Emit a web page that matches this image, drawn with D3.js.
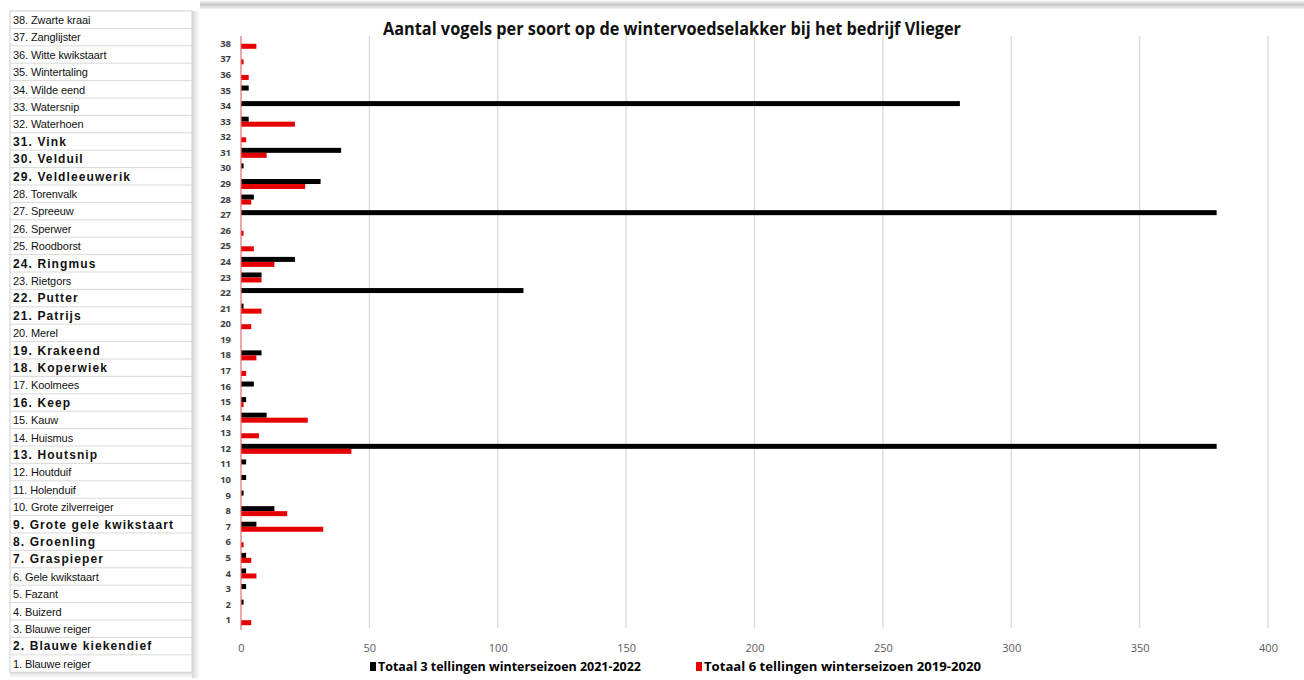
<!DOCTYPE html>
<html><head><meta charset="utf-8">
<script src="https://cdn.jsdelivr.net/npm/d3@7"></script>
<style>html,body{margin:0;padding:0;background:#fff;}svg{display:block;}</style>
</head><body>
<svg id="c" width="1304" height="680"></svg>
<script>
const categories = d3.range(1, 39).map(String);
const series2122 = [0,1,2,2,2,0,6,13,1,2,2,380,0,10,2,5,0,8,0,0,1,110,8,21,0,0,380,5,31,1,39,0,3,280,3,0,0,0];
const series1920 = [4,0,0,6,4,1,32,18,0,0,0,43,7,26,1,0,2,6,0,4,8,0,8,13,5,1,0,4,25,0,10,2,21,0,0,3,1,6];
const seriesNames = ["Totaal 3 tellingen winterseizoen 2021-2022","Totaal 6 tellingen winterseizoen 2019-2020"];
const xTicks = [0,50,100,150,200,250,300,350,400];
const title = "Aantal vogels per soort op de wintervoedselakker bij het bedrijf Vlieger";
const speciesList = ["38. Zwarte kraai","37. Zanglijster","36. Witte kwikstaart","35. Wintertaling","34. Wilde eend","33. Watersnip","32. Waterhoen","31. Vink","30. Velduil","29. Veldleeuwerik","28. Torenvalk","27. Spreeuw","26. Sperwer","25. Roodborst","24. Ringmus","23. Rietgors","22. Putter","21. Patrijs","20. Merel","19. Krakeend","18. Koperwiek","17. Koolmees","16. Keep","15. Kauw","14. Huismus","13. Houtsnip","12. Houtduif","11. Holenduif","10. Grote zilverreiger","9. Grote gele kwikstaart","8. Groenling","7. Graspieper","6. Gele kwikstaart","5. Fazant","4. Buizerd","3. Blauwe reiger","2. Blauwe kiekendief","1. Blauwe reiger"];
const boldItems = ["31. Vink","30. Velduil","29. Veldleeuwerik","24. Ringmus","22. Putter","21. Patrijs","19. Krakeend","18. Koperwiek","16. Keep","13. Houtsnip","9. Grote gele kwikstaart","8. Groenling","7. Graspieper","2. Blauwe kiekendief"];
const colors = ["#000000","#e60000"];

const svg = d3.select("#c");
const defs = svg.append("defs");
const gTop = defs.append("linearGradient").attr("id","gt").attr("x1",0).attr("x2",0).attr("y1",0).attr("y2",1);
gTop.append("stop").attr("offset","0").attr("stop-color","#ffffff");
gTop.append("stop").attr("offset","0.5").attr("stop-color","#c8c8c8");
gTop.append("stop").attr("offset","1").attr("stop-color","#f4f4f4");
const gSide = defs.append("linearGradient").attr("id","gs").attr("x1",0).attr("x2",1).attr("y1",0).attr("y2",0);
gSide.append("stop").attr("offset","0").attr("stop-color","#d8d8d8");
gSide.append("stop").attr("offset","1").attr("stop-color","#ffffff");
const gBot = defs.append("linearGradient").attr("id","gb").attr("x1",0).attr("x2",0).attr("y1",0).attr("y2",1);
gBot.append("stop").attr("offset","0").attr("stop-color","#dcdcdc");
gBot.append("stop").attr("offset","1").attr("stop-color","#ffffff");

// top shadow band of chart panel
svg.append("rect").attr("x",200).attr("y",0).attr("width",1104).attr("height",9).attr("fill","url(#gt)");

// left list panel
const listG = svg.append("g");
const rowTop = 11, rowH = 17.4, listX = 10, listW = 182;
listG.append("rect").attr("x",listX+listW).attr("y",rowTop).attr("width",8).attr("height",rowH*38+6).attr("fill","url(#gs)");
listG.append("rect").attr("x",listX).attr("y",rowTop+rowH*38).attr("width",listW).attr("height",6).attr("fill","url(#gb)");
listG.append("rect").attr("x",listX).attr("y",rowTop).attr("width",listW).attr("height",rowH*38).attr("fill","#fff").attr("stroke","#d0d0d0").attr("stroke-width",1);
speciesList.forEach((s,i)=>{
  const y = rowTop + i*rowH;
  if(i>0) listG.append("line").attr("x1",listX).attr("x2",listX+listW).attr("y1",y).attr("y2",y).attr("stroke","#d9d9d9");
  const b = boldItems.includes(s);
  listG.append("text").attr("x",13).attr("y",y+13)
    .attr("font-family","'Liberation Sans', Arial, sans-serif")
    .attr("font-size", b ? 12 : 11).attr("font-weight", b ? "bold" : "normal")
    .attr("letter-spacing", b ? 1.1 : -0.1)
    .attr("fill","#111").text(s);
});

// chart
const x = d3.scaleLinear().domain([0,400]).range([241,1268]);
const y = d3.scaleBand().domain(categories.slice().reverse()).range([36,628]).padding(0);
const barH = 5;

const grid = svg.append("g");
xTicks.forEach(t=>{
  if(t===0) return;
  grid.append("line").attr("x1",x(t)).attr("x2",x(t)).attr("y1",36).attr("y2",628).attr("stroke","#d9d9d9").attr("stroke-width",1.3);
});

svg.append("text").attr("x",672).attr("y",35).attr("text-anchor","middle")
  .attr("font-family","'Open Sans', 'Noto Sans', sans-serif").attr("font-weight","bold").attr("font-size",17)
  .attr("textLength",578).attr("lengthAdjust","spacingAndGlyphs").attr("fill","#111").text(title);

const data = categories.map((c,i)=>({c, a: series2122[i], b: series1920[i]}));
svg.append("g").selectAll("rect").data(data).join("rect")
  .attr("x",x(0)).attr("y",d=>y(d.c)+y.bandwidth()/2-barH).attr("width",d=>x(d.a)-x(0)).attr("height",barH).attr("fill",colors[0]);
svg.append("g").selectAll("rect").data(data).join("rect")
  .attr("x",x(0)).attr("y",d=>y(d.c)+y.bandwidth()/2).attr("width",d=>x(d.b)-x(0)).attr("height",barH).attr("fill",colors[1]);

// y axis
const yAxis = d3.axisLeft(y).tickSize(0).tickPadding(10);
const yg = svg.append("g").attr("transform",`translate(${x(0)},0)`).call(yAxis);
yg.select(".domain").attr("stroke","#e07070").attr("stroke-width",1.2).attr("d","M0,36V630");
yg.selectAll("text").attr("font-family","'Open Sans', 'Noto Sans', sans-serif").attr("font-weight","bold").attr("font-size",9.5).attr("fill","#404040");

// x axis
const xAxis = d3.axisBottom(x).tickValues(xTicks).tickSize(0).tickPadding(10);
const xg = svg.append("g").attr("transform","translate(0,634)").call(xAxis);
xg.select(".domain").remove();
xg.selectAll("text").attr("font-family","'Open Sans', 'Noto Sans', sans-serif").attr("font-size",11).attr("fill","#595959");

// legend
const leg = [{x:370, name:seriesNames[0], col:colors[0]},{x:696, name:seriesNames[1], col:colors[1]}];
leg.forEach(l=>{
  svg.append("rect").attr("x",l.x).attr("y",662).attr("width",6).attr("height",9).attr("fill",l.col);
  svg.append("text").attr("x",l.x+8).attr("y",671)
    .attr("font-family","'Open Sans', 'Noto Sans', sans-serif").attr("font-size",12).attr("font-weight","bold")
    .attr("textLength", l.x===370 ? 263 : 277).attr("lengthAdjust","spacingAndGlyphs")
    .attr("fill","#000").text(l.name);
});
</script>
</body></html>
